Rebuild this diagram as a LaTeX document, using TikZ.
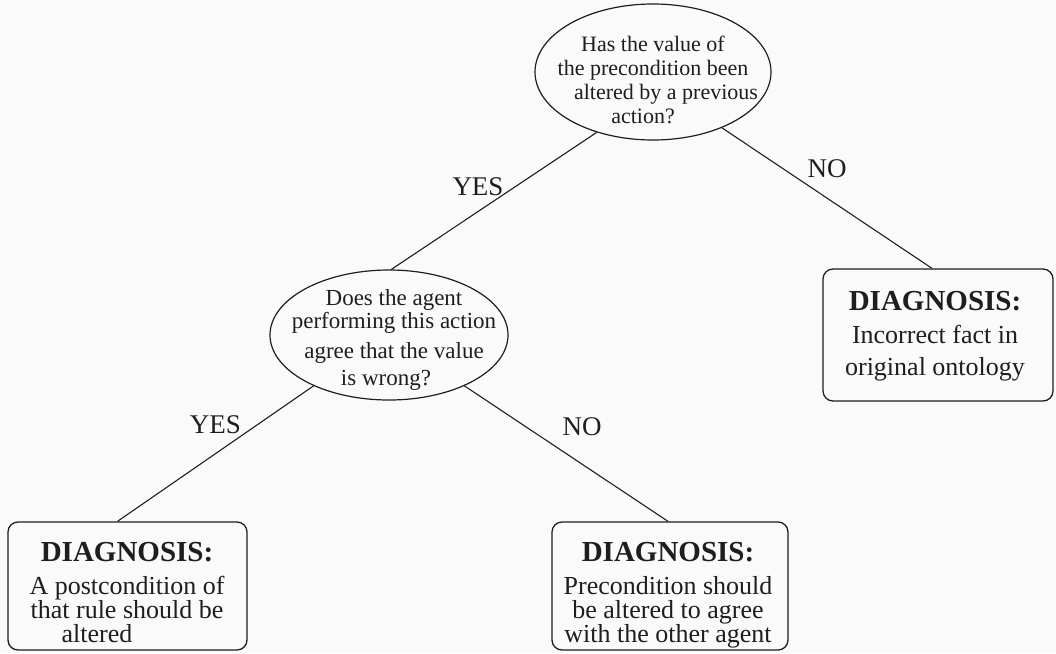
\documentclass[tikz,border=0pt]{standalone}
\usepackage{fontspec}
\setmainfont{Liberation Serif}
\usetikzlibrary{shapes.geometric}

\definecolor{ink}{RGB}{30,30,30}
\definecolor{paper}{RGB}{250,250,250}

\tikzset{
  question/.style={ellipse, draw=ink, line width=1.2pt, inner sep=0pt},
  qtext/.style={inner sep=0pt, align=center, text=ink, anchor=north},
  diagbox/.style={rectangle, rounded corners=10pt, draw=ink, line width=1.3pt, inner sep=0pt},
  dtext/.style={inner sep=0pt, align=center, text=ink, anchor=north,
                font=\fontsize{26}{24}\selectfont},
  answer/.style={inner sep=0pt, anchor=base, text=ink, font=\fontsize{27}{27}\selectfont},
  branch/.style={draw=ink, line width=1.1pt},
}
\newcommand{\diaghead}{{\bfseries\fontsize{29}{24}\selectfont DIAGNOSIS:}}

\begin{document}
\begin{tikzpicture}[x=1pt, y=-1pt]
  \useasboundingbox[fill=paper] (0,0) rectangle (1056,653);

  % questions
  \node[question, minimum width=236pt, minimum height=136pt] (q1) at (653,72) {};
  \node[qtext, font=\fontsize{22}{24}\selectfont] (q1t) at (653,36)
    {Has the value of\\the precondition been\\\hspace*{26pt}altered by a previous\\action?\hspace*{20pt}};

  \node[question, minimum width=238pt, minimum height=130pt] (q2) at (389,335) {};
  \node[qtext, font=\fontsize{23}{23}\selectfont] (q2t) at (394,289)
    {Does the agent\\performing this action\\[7pt]agree that the value\\[4pt]is wrong?\hspace*{16pt}};

  % diagnoses
  \node[diagbox, minimum width=230pt, minimum height=132pt] (rb) at (938,335) {};
  \node[dtext] (rbt) at (935,291)
    {\diaghead\\[9pt]Incorrect fact in\\[8pt]original ontology};

  \node[diagbox, minimum width=239pt, minimum height=128pt] (lb) at (127.5,586) {};
  \node[dtext] (lbt) at (127,542)
    {\diaghead\\[9pt]A postcondition of\\that rule should be\\altered\hspace*{60pt}};

  \node[diagbox, minimum width=236pt, minimum height=128pt] (mb) at (670,586) {};
  \node[dtext] (mbt) at (668,542)
    {\diaghead\\[9pt]Precondition should\\be altered to agree\\with the other agent};

  % branches
  \draw[branch] (q1.227) -- (q2.88);
  \draw[branch] (q1.321) -- ([xshift=-6pt]rb.north);
  \draw[branch] (q2.214) -- ([xshift=-10pt]lb.north);
  \draw[branch] (q2.326) -- ([xshift=-2pt]mb.north);

  % branch labels
  \node[answer] (y1) at (478,195) {YES};
  \node[answer] (n1) at (827,177) {NO};
  \node[answer] (y2) at (215.5,433) {YES};
  \node[answer] (n2) at (582,435) {NO};
\end{tikzpicture}
\end{document}
